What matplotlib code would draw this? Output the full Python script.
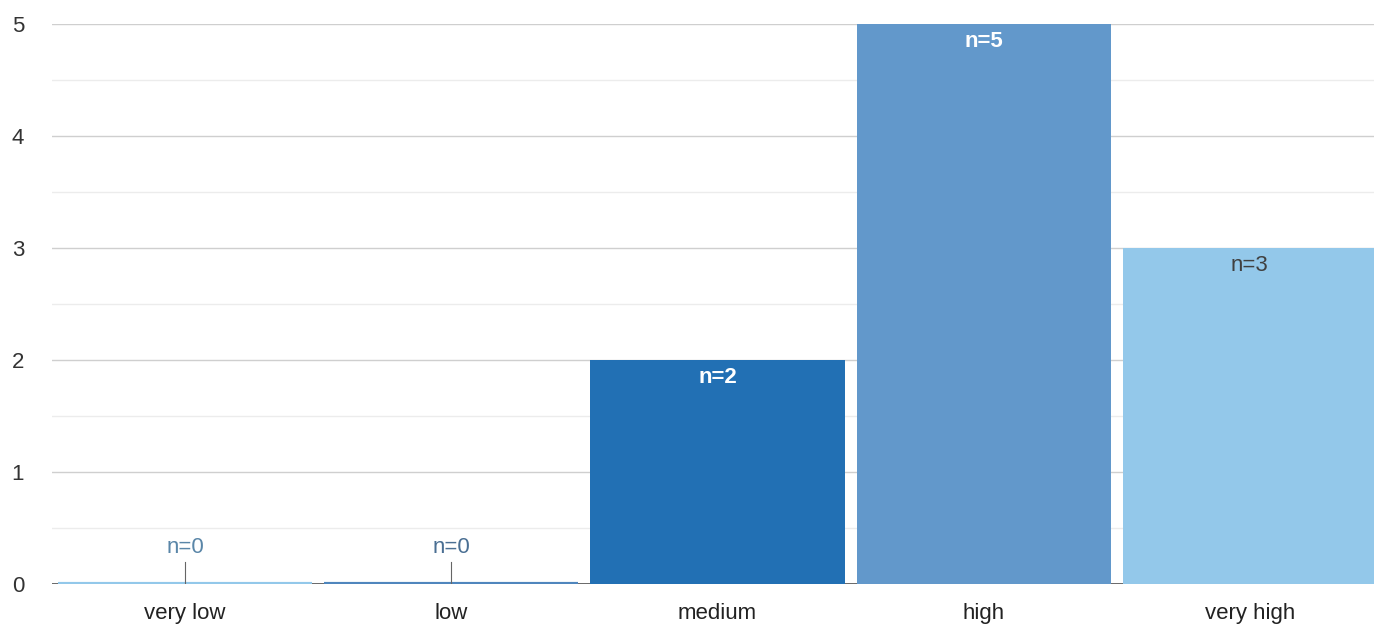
import matplotlib

matplotlib.use("Agg")
import matplotlib.pyplot as plt
import numpy as np

categories = ["very low", "low", "medium", "high", "very high"]
counts = [0, 0, 2, 5, 3]
bar_colors = ["#93c8ea", "#4f86bd", "#2270b4", "#6298cb", "#93c8ea"]
label_colors = ["#5a86a8", "#4a6f93", "#ffffff", "#ffffff", "#404040"]
y_ticks = [0, 1, 2, 3, 4, 5]

plt.rcParams["font.family"] = ["Liberation Sans", "DejaVu Sans"]

W, H = 1374, 626
fig = plt.figure(figsize=(W / 100, H / 100), dpi=100)
left, right, bottom, top = 52, 1383, 42, 602
ax = fig.add_axes([left / W, bottom / H, (right - left) / W, (top - bottom) / H])

x = np.arange(len(categories))
ax.set_xlim(-0.5, len(categories) - 0.5)
ax.set_ylim(0, 5)

# gridlines: integer majors darker, half-step minors lighter
ax.set_yticks(y_ticks)
ax.set_yticks(np.arange(0.5, 5, 1.0), minor=True)
ax.grid(axis="y", which="major", color="#cfcfcf", linewidth=1.0, zorder=0)
ax.grid(axis="y", which="minor", color="#ececec", linewidth=1.0, zorder=0)
ax.axhline(0, color="#333333", linewidth=1.2, zorder=1)

bars = ax.bar(x, counts, width=0.955, color=bar_colors, zorder=2)
for i, (xi, n) in enumerate(zip(x, counts)):
    if n == 0:
        # zero bars show as a thin strip on the baseline
        ax.plot([xi - 0.4775, xi + 0.4775], [0, 0], color=bar_colors[i],
                linewidth=3, solid_capstyle="butt", zorder=3)
        ax.plot([xi, xi], [0, 0.2], color="#666666", linewidth=0.8, zorder=3)
        ax.text(xi, 0.23, f"n={n}", ha="center", va="bottom",
                color=label_colors[i], fontsize=16)
    else:
        ax.text(xi, n - 0.06, f"n={n}", ha="center", va="top",
                color=label_colors[i], fontsize=16,
                fontweight="bold" if label_colors[i] == "#ffffff" else "normal")

ax.set_xticks(x)
ax.set_xticklabels(categories)
ax.tick_params(axis="x", length=0, pad=14, labelsize=16, labelcolor="#222222")
ax.tick_params(axis="y", which="both", length=0, pad=20, labelsize=16,
               labelcolor="#333333")
for spine in ax.spines.values():
    spine.set_visible(False)

fig.savefig("out.png", dpi=100)
